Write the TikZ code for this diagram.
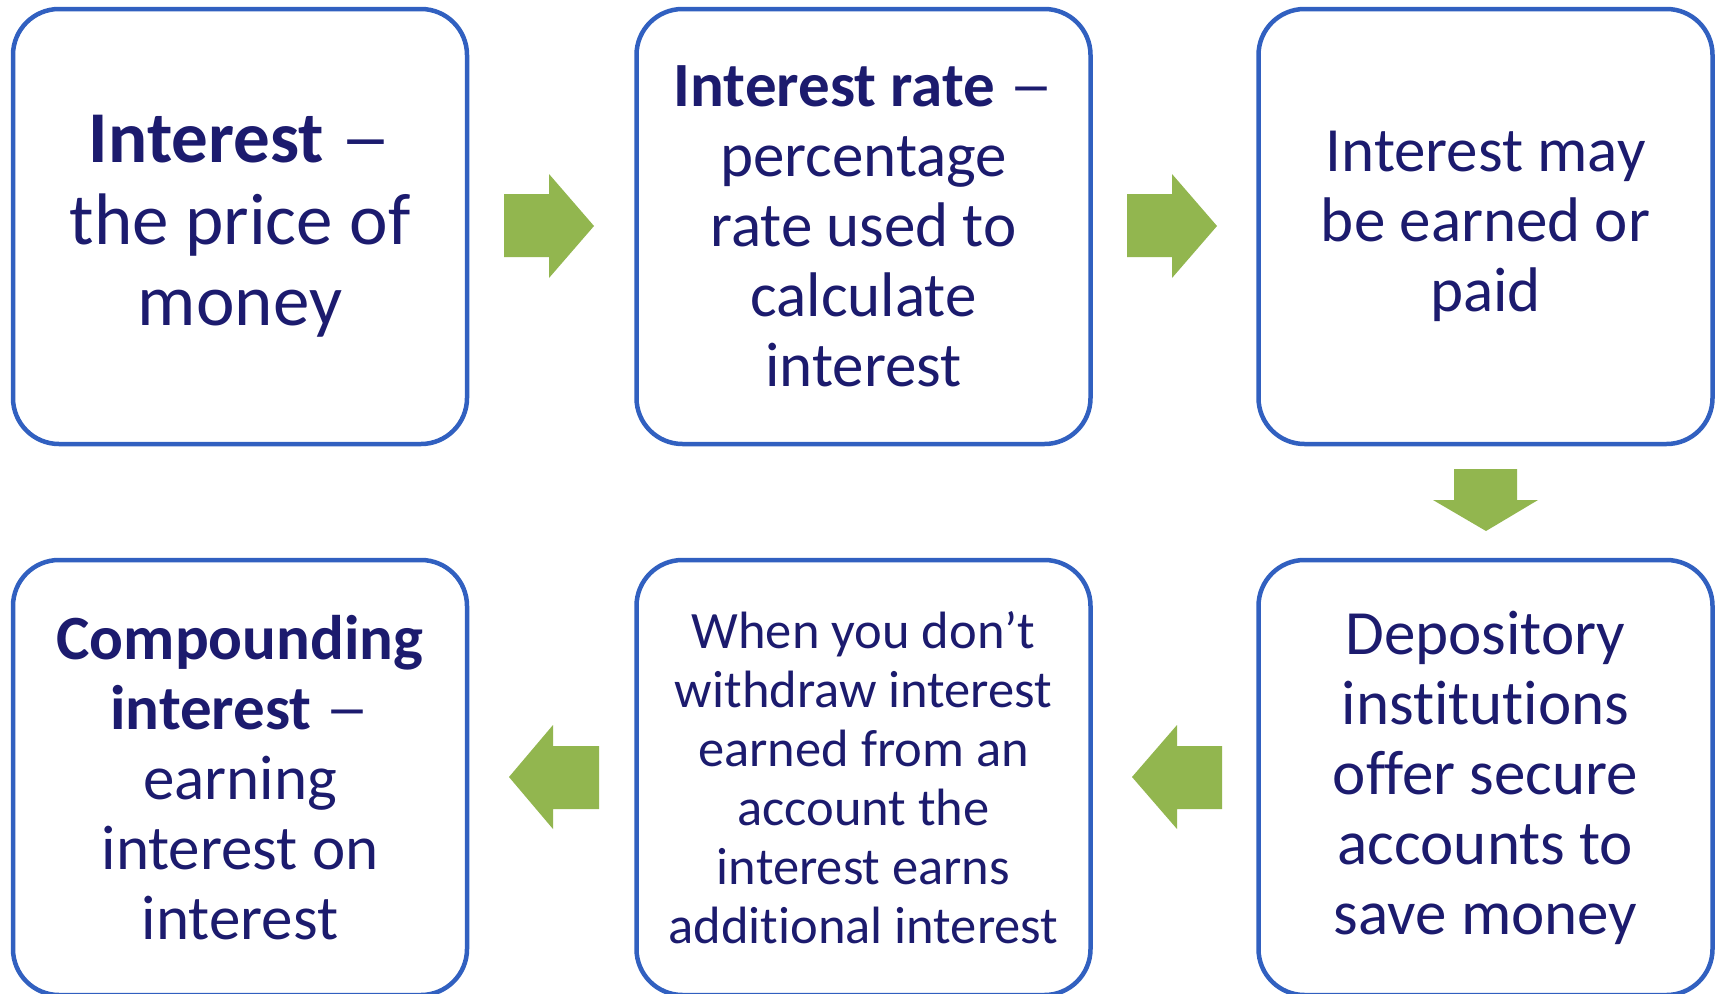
\documentclass[tikz,border=0pt]{standalone}
\usepackage{fontspec}
\usepackage{graphicx}
\setmainfont{Carlito}[Ligatures={TeX,NoCommon}]
\definecolor{boxblue}{RGB}{49,96,192}
\definecolor{navytext}{RGB}{28,27,110}
\definecolor{arrowgreen}{RGB}{146,182,79}
\newcommand{\longdash}{\scalebox{1.4}[1]{–}}
\tikzset{
  stepbox/.style={draw=boxblue, line width=4.5pt, rounded corners=46pt,
    minimum width=454pt, minimum height=435pt, align=center,
    text=navytext, inner sep=0pt},
  bigtxt/.style={font=\fontsize{73}{81.5}\selectfont},
  midtxt/.style={font=\fontsize{63}{70}\selectfont},
  smalltxt/.style={font=\fontsize{52.5}{59}\selectfont},
  blockarrow/.style={fill=arrowgreen, draw=none}
}
\begin{document}
\begin{tikzpicture}[x=1pt,y=-1pt]
\useasboundingbox (0,0) rectangle (1715,993);
\fill[white] (0,0) rectangle (1715,993);
% top row
\node[stepbox, bigtxt] (b1) at (240,226.5) {\textbf{Interest} \longdash\\the price of\\money};
\node[stepbox, midtxt] (b2) at (863.5,226.5) {\textbf{Interest rate} \longdash\\percentage\\rate used to\\calculate\\interest};
\node[stepbox, midtxt] (b3) at (1485.5,226.5) {Interest may\\be earned or\\paid};
% bottom row
\node[stepbox, midtxt] (b6) at (1485.5,777.5) {Depository\\institutions\\offer secure\\accounts to\\save money};
\node[stepbox, smalltxt] (b5) at (863.5,777.5) {When you don’t\\withdraw interest\\earned from an\\account the\\interest earns\\additional interest};
\node[stepbox, midtxt] (b4) at (240,777.5) {\textbf{Compounding}\\\textbf{interest} \longdash\\earning\\interest on\\interest};
% block arrows
\fill[blockarrow] (504,194) -- (549,194) -- (549,174) -- (594,226) -- (549,278) -- (549,257) -- (504,257) -- cycle;
\fill[blockarrow] (1127,194) -- (1172,194) -- (1172,174) -- (1217,226) -- (1172,278) -- (1172,257) -- (1127,257) -- cycle;
\fill[blockarrow] (1454,469) -- (1517,469) -- (1517,500) -- (1538,500) -- (1486,531) -- (1433,500) -- (1454,500) -- cycle;
\fill[blockarrow] (1222,746) -- (1177,746) -- (1177,725) -- (1132,777) -- (1177,829) -- (1177,809) -- (1222,809) -- cycle;
\fill[blockarrow] (599,746) -- (553,746) -- (553,725) -- (509,777) -- (553,829) -- (553,809) -- (599,809) -- cycle;
\end{tikzpicture}
\end{document}
